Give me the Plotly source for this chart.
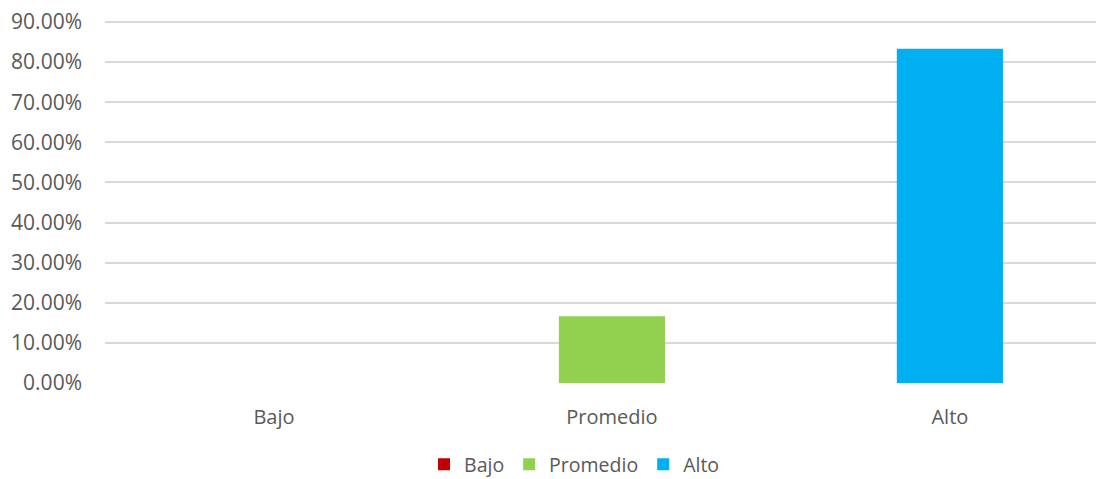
import plotly.graph_objects as go

categories = ["Bajo", "Promedio", "Alto"]
values = [0.0, 0.1667, 0.8333]
colors = ["#C00000", "#92D050", "#00B0F0"]

fig = go.Figure()

for cat, val, col in zip(categories, values, colors):
    fig.add_trace(go.Bar(x=[cat], y=[val], name=cat, marker=dict(color=col, line=dict(width=0)),
                         width=0.314))

font_color = "#595959"
# page body has an 8px margin, so the figure is a bit smaller and shifted
fig.update_layout(
    width=1096, height=471,
    barmode="overlay",
    plot_bgcolor="white", paper_bgcolor="white",
    margin=dict(l=97, r=0, t=12, b=96, autoexpand=False),
    font=dict(family="Open Sans", size=20, color=font_color),
    showlegend=True,
    legend=dict(orientation="h", x=0.47, y=-0.225,
                xanchor="center", yanchor="middle", font=dict(size=19.5, color=font_color),
                tracegroupgap=0),
    xaxis=dict(type="category", range=[-0.5, 2.456], showgrid=False, showline=False,
               ticks="", ticklabelstandoff=20, tickfont=dict(size=20, color=font_color)),
    yaxis=dict(range=[0, 0.905], dtick=0.1, tickformat=".2%", showgrid=True, gridcolor="#D9D9D9",
               gridwidth=1.5, zeroline=False, showline=False, ticks="", ticklabelstandoff=22,
               ticklabeloverflow="allow", tickfont=dict(size=21, color=font_color)),
)

fig.write_html("out.html")
